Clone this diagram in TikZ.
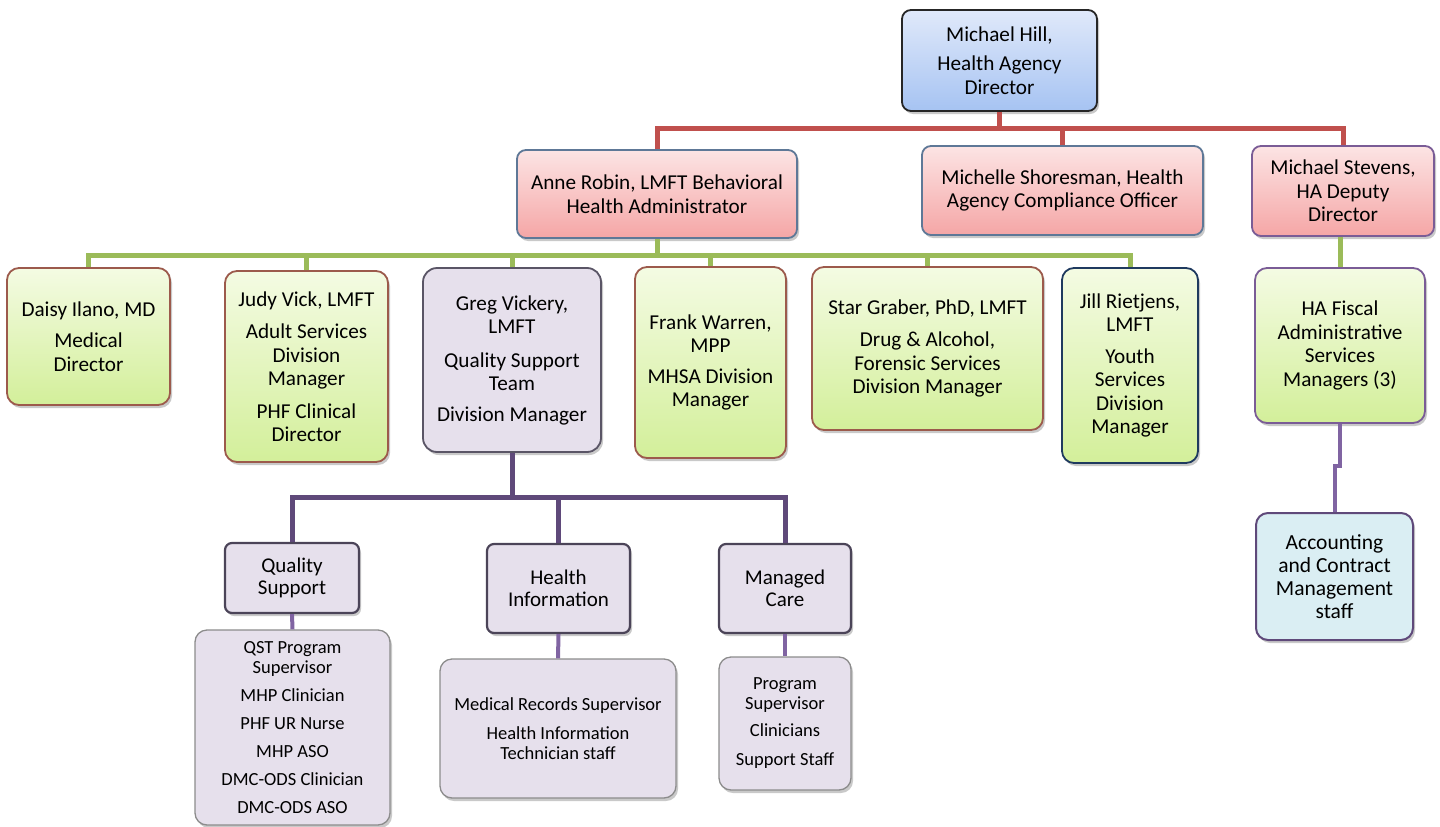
\documentclass[tikz,border=0pt]{standalone}
\usepackage{fontspec}
\setmainfont{Carlito}
\usetikzlibrary{shadows}
\definecolor{redc}{HTML}{C0504D}
\definecolor{greenc}{HTML}{9BBB59}
\definecolor{purpc}{HTML}{5F497A}
\definecolor{lpurpc}{HTML}{8064A2}
\definecolor{blueT}{HTML}{E0E9FA}
\definecolor{blueB}{HTML}{A6C3F2}
\definecolor{pinkT}{HTML}{FCE4E4}
\definecolor{pinkB}{HTML}{F5A6A6}
\definecolor{grT}{HTML}{F4FBE3}
\definecolor{grB}{HTML}{D3EF9A}
\definecolor{lav}{HTML}{E6E0EC}
\definecolor{lblue}{HTML}{DAEEF3}
\definecolor{steel}{HTML}{5E7897}
\definecolor{brownb}{HTML}{9C5A4C}
\definecolor{navyb}{HTML}{1F3A5F}
\definecolor{purpb}{HTML}{7A5C96}
\definecolor{lavb}{HTML}{5A5566}
\definecolor{lavbd}{HTML}{4B4458}
\tikzset{
  box/.style={rounded corners=9pt, align=center, inner sep=0pt, line width=1.8pt,
    font=\fontsize{21.2}{23.5}\selectfont,
    drop shadow={shadow xshift=2pt,shadow yshift=-3pt,opacity=0.3,fill=black!70}},
  topbox/.style={box, draw=black!85, top color=blueT, bottom color=blueB},
  pinkbox/.style={box, draw=steel, top color=pinkT, bottom color=pinkB},
  greenbox/.style={box, draw=brownb, top color=grT, bottom color=grB},
  lavbox/.style={box, draw=lavb, fill=lav},
  subbox/.style={box, draw=lavbd, fill=lav, line width=2.2pt, rounded corners=7pt,
    font=\fontsize{21}{22.5}\selectfont},
  staffbox/.style={box, draw=black!45, fill=lav, line width=1.3pt, rounded corners=12pt,
    font=\fontsize{18.5}{20}\selectfont},
  acctbox/.style={box, draw=purpc, fill=lblue, line width=2pt, rounded corners=12pt,
    font=\fontsize{21.5}{23}\selectfont},
  redline/.style={draw=redc, line width=5pt},
  greenline/.style={draw=greenc, line width=5pt},
  purpline/.style={draw=purpc, line width=5pt},
  lpurpline/.style={draw=lpurpc, line width=4pt},
}
\begin{document}
\begin{tikzpicture}[x=1pt,y=1pt]
\useasboundingbox (0,0) rectangle (1440,-827);
% coordinates for buses
\coordinate (rbus) at (0,-128);
\coordinate (gbus) at (0,-255);
\coordinate (pbus) at (0,-497);

% top
\node[topbox, minimum width=195pt, minimum height=101pt] (top) at (999.5,-60.5)
  {Michael Hill,\\[6pt]Health Agency\\Director};
% level 2
\node[pinkbox, minimum width=280pt, minimum height=88pt] (anne) at (657,-194)
  {Anne Robin, LMFT Behavioral\\Health Administrator};
\node[pinkbox, minimum width=281pt, minimum height=89pt] (michelle) at (1062.5,-190.5)
  {Michelle Shoresman, Health\\Agency Compliance Officer};
\node[pinkbox, draw=purpb, minimum width=182pt, minimum height=90pt] (stevens) at (1343,-191)
  {Michael Stevens,\\HA Deputy\\Director};
% level 3
\node[greenbox, minimum width=163pt, minimum height=137pt, rounded corners=12pt] (daisy) at (88.5,-336.5)
  {Daisy Ilano, MD\\[8pt]Medical\\Director};
\node[greenbox, minimum width=163pt, minimum height=191pt, rounded corners=12pt] (judy) at (306.5,-366.5)
  {Judy Vick, LMFT\\[9pt]Adult Services\\Division\\Manager\\[9pt]PHF Clinical\\Director};
\node[lavbox, minimum width=178pt, minimum height=184pt, rounded corners=14pt] (greg) at (512,-360)
  {Greg Vickery,\\LMFT\\[10pt]Quality Support\\Team\\[7pt]Division Manager};
\node[greenbox, minimum width=151pt, minimum height=191pt, rounded corners=12pt] (frank) at (710.5,-362.5)
  {Frank Warren,\\MPP\\[7pt]MHSA Division\\Manager};
\node[greenbox, minimum width=231pt, minimum height=163pt, rounded corners=12pt] (star) at (927.5,-348.5)
  {Star Graber, PhD, LMFT\\[9pt]Drug \& Alcohol,\\Forensic Services\\Division Manager};
\node[greenbox, draw=navyb, minimum width=136pt, minimum height=195pt, rounded corners=12pt] (jill) at (1130,-365.5)
  {Jill Rietjens,\\LMFT\\[8pt]Youth\\Services\\Division\\Manager};
\node[greenbox, draw=purpb, minimum width=170pt, minimum height=155pt, rounded corners=12pt] (fiscal) at (1340,-345.5)
  {HA Fiscal\\Administrative\\Services\\Managers (3)};
% level 4
\node[subbox, minimum width=134pt, minimum height=70pt] (qs) at (292,-578)
  {Quality\\Support};
\node[subbox, minimum width=143pt, minimum height=89pt] (hi) at (558.5,-588.5)
  {Health\\Information};
\node[subbox, minimum width=132pt, minimum height=89pt] (mc) at (785,-588.5)
  {Managed\\Care};
% level 5
\node[staffbox, minimum width=195pt, minimum height=195pt] (qst) at (292.5,-727.5)
  {QST Program\\Supervisor\\[8pt]MHP Clinician\\[8pt]PHF UR Nurse\\[8pt]MHP ASO\\[8pt]DMC-ODS Clinician\\[8pt]DMC-ODS ASO};
\node[staffbox, minimum width=236pt, minimum height=139pt] (mr) at (558,-728.5)
  {Medical Records Supervisor\\[9pt]Health Information\\Technician staff};
\node[staffbox, minimum width=132pt, minimum height=133pt] (ps) at (785,-723.5)
  {Program\\Supervisor\\[7pt]Clinicians\\[9pt]Support Staff};
\node[acctbox, minimum width=157pt, minimum height=127pt] (acct) at (1334.5,-576.5)
  {Accounting\\and Contract\\Management\\staff};

% red connectors
\draw[redline] (top.south) -- (top.south |- rbus);
\draw[redline, line join=miter] (anne.north) |- (stevens.north |- rbus) -- (stevens.north);
\draw[redline] (michelle.north) -- (michelle.north |- rbus);
% green connectors
\draw[greenline] (anne.south) -- (anne.south |- gbus);
\draw[greenline] (daisy.north) |- (jill.north |- gbus) -- (jill.north);
\foreach \n in {judy,greg,frank,star} \draw[greenline] (\n.north) -- (\n.north |- gbus);
\draw[greenline] (fiscal.north |- stevens.south) -- (fiscal.north);
% purple connectors
\draw[purpline] (greg.south) -- (greg.south |- pbus);
\draw[purpline] (qs.north) |- (mc.north |- pbus) -- (mc.north);
\draw[purpline] (hi.north) -- (hi.north |- pbus);
% light purple connectors
\draw[lpurpline] (qs.south) -- (qst.north);
\draw[lpurpline] (hi.south) -- (mr.north);
\draw[lpurpline] (mc.south) -- (ps.north);
\draw[lpurpline] (fiscal.south) -- ++(0,-42) -| (acct.north);
\end{tikzpicture}
\end{document}
